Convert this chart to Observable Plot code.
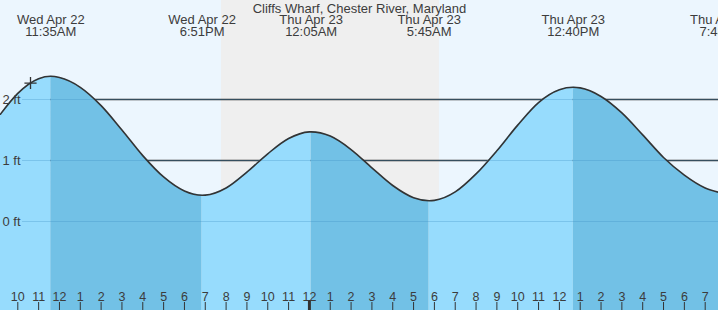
<!DOCTYPE html>
<html>
<head>
<meta charset="utf-8">
<script src="https://cdn.jsdelivr.net/npm/d3@7"></script>
<script src="https://cdn.jsdelivr.net/npm/@observablehq/plot@0.6"></script>
<style>
  html, body { margin: 0; padding: 0; background: #ecf6fe; }
  svg { display: block; }
</style>
</head>
<body>
<div id="chart"></div>
<script>
// Hours after Wed Apr 22 00:00 (local) and water level in ft
const tideHours = [9.17, 10, 11, 11.583, 12, 13, 14, 15, 16, 17, 18, 18.85, 19, 20, 21, 22, 23, 24, 24.083, 25, 26, 27, 28, 29, 29.75, 30, 31, 32, 33, 34, 35, 36, 36.667, 37, 38, 39, 40, 41, 42, 43, 43.64];
const tideFeet  = [1.76, 2.10, 2.34, 2.38, 2.36, 2.20, 1.90, 1.50, 1.08, 0.73, 0.50, 0.43, 0.432, 0.55, 0.81, 1.11, 1.36, 1.469, 1.47, 1.40, 1.18, 0.88, 0.59, 0.39, 0.34, 0.346, 0.485, 0.78, 1.16, 1.58, 1.95, 2.16, 2.20, 2.19, 2.05, 1.78, 1.42, 1.05, 0.76, 0.55, 0.48];

// High / low tide events
const eventHours = [11.583, 18.85, 24.083, 29.75, 36.667, 43.8];
const eventDays  = ["Wed Apr 22", "Wed Apr 22", "Thu Apr 23", "Thu Apr 23", "Thu Apr 23", "Thu Apr 23"];
const eventClock = ["11:35AM", "6:51PM", "12:05AM", "5:45AM", "12:40PM", "7:48PM"];
const eventKind  = ["high", "low", "high", "low", "high", "low"];

// Night (sunset Wed -> sunrise Thu)
const nightStart = [19.78];
const nightEnd   = [30.24];

// Current-time marker
const nowHour = [10.61];
const nowFeet = [2.27];

// Hour ticks along the bottom
const tickHours = d3.range(10, 44);
const levelTicks = [0, 1, 2];
const levelLines = [1, 2];

const title = "Cliffs Wharf, Chester River, Maryland";

const xDomain = [9.1695, 43.639];
const yDomain = [-1.459, 3.623];

const font = "'Liberation Sans', Arial, sans-serif";
const ink = "#3c3c3c";

// rows for the curve
const rows = tideHours.map((t, i) => ({t, h: tideFeet[i]}));

// split water area into rising (light) and falling (dark) segments
const bounds = [tideHours[0], ...eventHours.filter(t => t > tideHours[0] && t < tideHours[tideHours.length - 1]), tideHours[tideHours.length - 1]];
const areaRows = [];
for (let s = 0; s < bounds.length - 1; s++) {
  const a = bounds[s], b = bounds[s + 1];
  const ei = eventHours.indexOf(a);
  const falling = ei >= 0 && eventKind[ei] === "high";
  for (const r of rows) {
    if (r.t >= a - 1e-9 && r.t <= b + 1e-9) areaRows.push({...r, seg: s, color: falling ? "#72c1e6" : "#97dcfd"});
  }
}

const events = eventHours.map((t, i) => ({t, label: eventDays[i] + "\n" + eventClock[i]}));
const night = nightStart.map((s, i) => ({x1: s, x2: nightEnd[i]}));
const fmtHour = h => String((h % 12) || 12);

const chart = Plot.plot({
  width: 718,
  height: 310,
  marginTop: 0, marginBottom: 0, marginLeft: 0, marginRight: 0,
  style: {background: "#ecf6fe", fontFamily: font},
  x: {domain: xDomain, axis: null},
  y: {domain: yDomain, axis: null},
  color: {type: "identity"},
  marks: [
    Plot.rect(night, {x1: "x1", x2: "x2", fill: "#efefef"}),
    Plot.ruleY(levelLines, {y: d => d, stroke: "#333", strokeWidth: 1.5, insetLeft: 22}),
    Plot.areaY(areaRows, {x: "t", y1: () => yDomain[0], y2: "h", z: "seg", fill: "color", curve: "monotone-x"}),
    Plot.ruleY(levelTicks, {y: d => d, stroke: "#3d8fc4", strokeOpacity: 0.3, strokeWidth: 1.2, insetLeft: 22}),
    Plot.line(rows, {x: "t", y: "h", curve: "monotone-x", stroke: "#333", strokeWidth: 1.6}),
    Plot.dot(nowHour.map((t, i) => ({t, h: nowFeet[i]})), {x: "t", y: "h", symbol: "plus", r: 4, stroke: "#333", strokeWidth: 1.3}),
    Plot.text(levelTicks, {y: d => d, text: d => d + " ft", frameAnchor: "left", textAnchor: "start", dx: 2, fontSize: 13, fill: ink}),
    Plot.text([title], {text: d => d, frameAnchor: "top", lineAnchor: "top", dy: 3, fontSize: 13, fill: ink}),
    Plot.text(events, {x: "t", text: "label", frameAnchor: "top", lineAnchor: "top", dy: 15, lineHeight: 0.93, fontSize: 13, fill: ink}),
    Plot.ruleX(tickHours.filter(h => h !== 24), {x: d => d, stroke: "#333", strokeWidth: 1, insetTop: 302}),
    Plot.ruleX([24], {x: d => d, stroke: "#333", strokeWidth: 3, insetTop: 300}),
    Plot.text(tickHours, {x: d => d, text: fmtHour, frameAnchor: "bottom", lineAnchor: "bottom", dy: -10, fontSize: 12.5, fill: ink})
  ]
});
document.getElementById("chart").appendChild(chart);
</script>
</body>
</html>
